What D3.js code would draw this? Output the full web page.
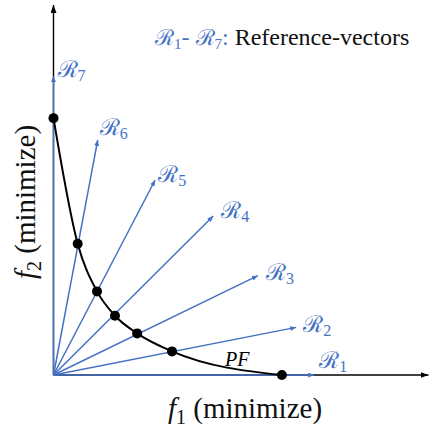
<!DOCTYPE html>
<html>
<head>
<meta charset="utf-8">
<script src="https://cdn.jsdelivr.net/npm/d3@7"></script>
</head>
<body style="margin:0">
<svg id="chart" width="432" height="428" font-family="serif" style="font-family: serif"></svg>
<script>
// Objective space (f1, f2), both minimized; equal units on both axes.
const axisExtent = [100, 98.7];               // f1 axis end, f2 axis end

// Reference-vector tips R1..R7 (all vectors start at the origin)
const vectorNames = ["1", "2", "3", "4", "5", "6", "7"];
const vectorF1 = [69.5, 64.7, 54.5, 42.6, 27.1, 11.8, 0];
const vectorF2 = [0, 12.7, 26.5, 42.4, 52.0, 62.7, 79.7];

// Solutions on the Pareto front, one per reference vector (R7 .. R1)
const solutionF1 = [0, 6.45, 11.6, 16.4, 22.3, 31.6, 60.9];
const solutionF2 = [68.5, 35.0, 22.3, 15.8, 11.1, 6.3, 0];

const frontLabel = "PF";
const titleText = "Reference-vectors";
const xLabel = "(minimize)";
const yLabel = "(minimize)";

const blue = "#4472c4";
const svg = d3.select("#chart");

const x = d3.scaleLinear().domain([0, 100]).range([53.5, 428.5]);
const y = d3.scaleLinear().domain([0, 100]).range([375, 0]);

// every text element of the figure uses the serif face
function serifText(parent) {
  return parent.append("text").attr("font-family", "serif").style("font-family", "serif");
}

// arrowhead markers
const defs = svg.append("defs");
function marker(id, color, len, wid) {
  defs.append("marker")
    .attr("id", id)
    .attr("viewBox", `0 ${-wid / 2} ${len} ${wid}`)
    .attr("refX", len).attr("refY", 0)
    .attr("markerWidth", len).attr("markerHeight", wid)
    .attr("markerUnits", "userSpaceOnUse")
    .attr("orient", "auto")
    .append("path")
    .attr("d", `M0,${-wid / 2}L${len},0L0,${wid / 2}Z`)
    .attr("fill", color);
}
marker("arrow-black", "#000", 8, 6);
marker("arrow-blue", blue, 6, 5);

// axes
svg.append("line")
  .attr("x1", x(0)).attr("y1", y(0))
  .attr("x2", x(axisExtent[0])).attr("y2", y(0))
  .attr("stroke", "#000").attr("stroke-width", 1.4)
  .attr("marker-end", "url(#arrow-black)");
svg.append("line")
  .attr("x1", x(0)).attr("y1", y(0))
  .attr("x2", x(0)).attr("y2", y(axisExtent[1]))
  .attr("stroke", "#000").attr("stroke-width", 1.4)
  .attr("marker-end", "url(#arrow-black)");

// reference vectors
const vectors = vectorNames.map((n, i) => ({ name: n, f1: vectorF1[i], f2: vectorF2[i] }));
svg.append("g").selectAll("line").data(vectors).join("line")
  .attr("x1", x(0)).attr("y1", y(0))
  .attr("x2", d => x(d.f1)).attr("y2", d => y(d.f2))
  .attr("stroke", blue).attr("stroke-width", 1.5)
  .attr("marker-end", "url(#arrow-blue)");

// vector labels (script R with subscript index)
const labelShift = [[5, -7], [7, 5], [8, 4], [8, 2], [3, 2], [2, -5], [4, 1]];
const labelLayer = svg.append("g");
vectors.forEach((d, i) => {
  const t = serifText(labelLayer)
    .attr("x", x(d.f1) + labelShift[i][0])
    .attr("y", y(d.f2) + labelShift[i][1])
    .attr("fill", blue)
    .attr("font-size", 23);
  t.append("tspan").text("\u211B");
  t.append("tspan").attr("dy", 4).attr("font-size", 16).text(d.name);
});

// Pareto front
const solutions = solutionF1.map((v, i) => ({ f1: v, f2: solutionF2[i] }));
svg.append("path")
  .datum(solutions)
  .attr("fill", "none").attr("stroke", "#000").attr("stroke-width", 2)
  .attr("d", d3.line().x(d => x(d.f1)).y(d => y(d.f2)).curve(d3.curveMonotoneX));

svg.append("g").selectAll("circle").data(solutions).join("circle")
  .attr("cx", d => x(d.f1)).attr("cy", d => y(d.f2))
  .attr("r", 5).attr("fill", "#000");

serifText(svg)
  .attr("x", 225).attr("y", 366)
  .attr("font-style", "italic")
  .attr("font-size", 20)
  .text(frontLabel);

// title line
const title = serifText(svg)
  .attr("x", 155).attr("y", 45)
  .attr("font-size", 24);
title.append("tspan").attr("fill", blue).attr("font-size", 22).text("\u211B");
title.append("tspan").attr("fill", blue).attr("font-size", 15).attr("dy", 4).text(vectorNames[0]);
title.append("tspan").attr("fill", blue).attr("dy", -4).text("- ");
title.append("tspan").attr("fill", blue).attr("font-size", 22).text("\u211B");
title.append("tspan").attr("fill", blue).attr("font-size", 15).attr("dy", 4).text(vectorNames[6]);
title.append("tspan").attr("fill", blue).attr("dy", -4).text(":");
title.append("tspan").attr("fill", "#111").text(" " + titleText);

// axis titles
function axisTitle(g, idx, label) {
  const t = serifText(g)
    .attr("text-anchor", "middle")
    .attr("fill", "#111")
    .attr("font-size", 29);
  t.append("tspan").attr("font-style", "italic").text("f");
  t.append("tspan").attr("font-size", 20).attr("dy", 6).text(idx);
  t.append("tspan").attr("dy", -6).text(" " + label);
  return t;
}
axisTitle(svg.append("g").attr("transform", "translate(245,418)"), "1", xLabel);
axisTitle(svg.append("g").attr("transform", "translate(35,202) rotate(-90)"), "2", yLabel);
</script>
</body>
</html>
